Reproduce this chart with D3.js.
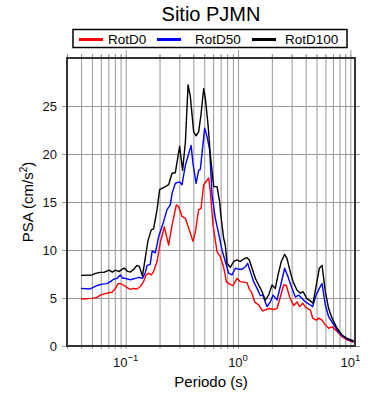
<!DOCTYPE html>
<html>
<head>
<meta charset="utf-8">
<script src="https://cdn.jsdelivr.net/npm/d3@7"></script>
<style>
  body { margin: 0; background: #fff; }
  svg { font-family: "Liberation Sans", Arial, Helvetica, sans-serif; }
</style>
</head>
<body>
<svg id="chart" width="390" height="400"></svg>
<script>
/* Data (period in s, PSA in cm/s2) */
const periods0 = [0.040, 0.050, 0.0555, 0.0594, 0.0636, 0.0705, 0.0755, 0.0808, 0.0854, 0.0895, 0.0958, 0.1027, 0.110, 0.1175, 0.126, 0.135, 0.144, 0.1517, 0.160, 0.169, 0.177, 0.190, 0.2033, 0.2206, 0.241, 0.2585, 0.2823, 0.296, 0.317, 0.3396, 0.3632, 0.397, 0.417, 0.446, 0.468, 0.494, 0.5475, 0.5666, 0.599, 0.650, 0.6956, 0.7446, 0.787, 0.842, 0.903, 0.980, 1.048, 1.122, 1.202, 1.26, 1.313, 1.406, 1.526, 1.656, 1.75, 1.873, 2.075, 2.224, 2.381, 2.547, 2.692, 2.88, 3.126, 3.352, 3.537, 3.76, 4.03, 4.404, 4.617, 4.95, 5.22, 5.597, 5.988, 6.41, 6.87, 7.61, 8.44, 9.35, 10.7];
const rotD0 = [4.9, 4.96, 5.07, 5.3, 5.4, 5.55, 5.6, 6.0, 6.5, 6.5, 6.35, 6.07, 5.9, 6.0, 5.94, 6.2, 6.7, 7.4, 7.57, 7.4, 7.75, 8.8, 10.8, 12.4, 10.5, 12.6, 14.7, 14.5, 13.5, 13.3, 12.3, 10.9, 11.9, 14.2, 14.3, 16.8, 17.5, 16.1, 12.6, 9.8, 9.3, 8.2, 6.7, 6.45, 6.3, 7.05, 6.7, 6.65, 6.6, 5.9, 5.66, 4.6, 4.27, 3.65, 3.75, 3.9, 3.8, 3.9, 5.1, 6.35, 6.3, 5.1, 4.2, 4.6, 4.1, 4.45, 4.0, 3.75, 2.9, 2.7, 2.9, 2.7, 2.2, 1.85, 2.0, 1.5, 0.97, 0.63, 0.38];

const periods50 = [0.040, 0.048, 0.0555, 0.0615, 0.068, 0.073, 0.078, 0.084, 0.0895, 0.094, 0.099, 0.110, 0.122, 0.132, 0.141, 0.149, 0.155, 0.165, 0.172, 0.1835, 0.1965, 0.2175, 0.233, 0.2495, 0.2585, 0.2765, 0.302, 0.317, 0.340, 0.382, 0.397, 0.423, 0.446, 0.4616, 0.5045, 0.530, 0.559, 0.587, 0.628, 0.672, 0.720, 0.770, 0.824, 0.884, 0.946, 1.012, 1.085, 1.161, 1.218, 1.287, 1.377, 1.476, 1.580, 1.656, 1.812, 1.939, 2.05, 2.224, 2.381, 2.60, 2.787, 2.982, 3.237, 3.465, 3.715, 3.975, 4.404, 4.617, 4.95, 5.297, 5.597, 5.988, 6.41, 6.87, 7.61, 8.44, 9.35, 10.7];
const rotD50 = [6.0, 5.94, 6.3, 6.45, 6.5, 6.7, 6.95, 7.05, 7.4, 7.05, 7.05, 6.9, 7.05, 7.15, 7.05, 7.6, 8.4, 8.5, 9.9, 9.7, 11.4, 12.95, 14.2, 14.7, 15.9, 16.95, 17.1, 16.8, 18.85, 20.9, 19.0, 16.95, 18.3, 18.4, 22.7, 21.8, 20.4, 15.7, 13.3, 11.7, 10.0, 8.8, 7.6, 7.4, 8.1, 8.0, 8.0, 8.25, 8.6, 7.75, 6.7, 6.0, 5.24, 5.3, 4.1, 4.6, 5.3, 4.8, 6.2, 8.1, 7.2, 6.2, 5.1, 5.3, 4.95, 4.6, 4.27, 4.1, 5.3, 6.0, 6.5, 4.27, 3.05, 2.5, 1.67, 1.07, 0.73, 0.45];

const periods100 = [0.040, 0.050, 0.054, 0.059, 0.064, 0.071, 0.076, 0.081, 0.087, 0.093, 0.098, 0.103, 0.110, 0.118, 0.126, 0.132, 0.141, 0.158, 0.169, 0.177, 0.190, 0.2005, 0.225, 0.241, 0.2585, 0.2765, 0.302, 0.321, 0.340, 0.359, 0.376, 0.4025, 0.423, 0.446, 0.468, 0.494, 0.512, 0.541, 0.567, 0.607, 0.650, 0.686, 0.700, 0.745, 0.770, 0.798, 0.854, 0.914, 0.980, 1.048, 1.122, 1.202, 1.26, 1.332, 1.426, 1.526, 1.636, 1.750, 1.873, 2.009, 2.148, 2.27, 2.43, 2.60, 2.73, 2.922, 3.089, 3.352, 3.589, 3.794, 4.115, 4.404, 4.65, 4.95, 5.297, 5.597, 5.988, 6.41, 6.87, 7.61, 8.44, 9.35, 10.7];
const rotD100 = [7.36, 7.4, 7.57, 7.67, 7.67, 7.9, 7.7, 7.9, 7.75, 8.0, 8.1, 7.8, 7.7, 8.0, 8.4, 8.3, 7.3, 11.0, 12.1, 12.2, 14.2, 16.3, 16.6, 16.8, 18.0, 18.05, 20.8, 18.3, 21.3, 27.2, 26.0, 22.3, 21.9, 22.3, 24.1, 26.8, 25.8, 23.0, 19.9, 16.6, 16.6, 15.0, 13.8, 11.2, 10.5, 8.6, 8.2, 8.8, 8.96, 8.8, 9.06, 9.2, 8.96, 8.1, 7.05, 6.35, 5.66, 4.8, 5.3, 6.35, 6.0, 7.4, 8.8, 9.55, 9.1, 7.7, 6.7, 5.8, 5.5, 5.66, 4.9, 4.7, 4.45, 6.2, 8.1, 8.4, 5.66, 3.9, 2.9, 1.85, 1.15, 0.8, 0.52];

const seriesNames = ["RotD0", "RotD50", "RotD100"];
const seriesColors = ["#ff0000", "#0000ff", "#000000"];
const yTicks = [0, 5, 10, 15, 20, 25];
const xLabelTicks = [0.1, 1, 10];
const xExponents = ["\u22121", "0", "1"];

const svg = d3.select("#chart");

/* plot box */
const plotLeft = 67, plotRight = 355, plotTop = 58, plotBottom = 346;

const x = d3.scaleLog().domain([0.03, 11]).range([plotLeft, plotRight]);
const y = d3.scaleLinear().domain([0, 30]).range([plotBottom, plotTop]);

const isMajor = d => Math.abs(Math.log10(d) - Math.round(Math.log10(d))) < 1e-6;

/* grid */
svg.append("g")
    .attr("transform", "translate(0," + plotBottom + ")")
    .call(d3.axisBottom(x).tickSize(-(plotBottom - plotTop) - 3).tickSizeOuter(0).tickFormat(""))
    .call(g => g.select(".domain").remove())
    .call(g => g.selectAll(".tick line").attr("y1", 3).attr("stroke", "#999"));

svg.append("g")
    .attr("transform", "translate(" + plotLeft + ",0)")
    .call(d3.axisLeft(y).tickValues(yTicks).tickSize(-(plotRight - plotLeft) - 5).tickSizeOuter(0).tickFormat(""))
    .call(g => g.select(".domain").remove())
    .call(g => g.selectAll(".tick line").attr("x1", -5).attr("stroke", "#999"));

/* top ticks, longer at the decades */
svg.append("g")
    .attr("transform", "translate(0," + plotTop + ")")
    .call(d3.axisTop(x).tickSize(4).tickSizeOuter(0).tickFormat(""))
    .call(g => g.select(".domain").remove())
    .call(g => g.selectAll(".tick line")
        .attr("y2", d => isMajor(d) ? -8 : -4)
        .attr("stroke", "#999"));

/* y labels */
svg.append("g")
    .selectAll("text")
    .data(yTicks)
    .join("text")
    .attr("x", plotLeft - 10)
    .attr("y", d => y(d) + 4.5)
    .attr("text-anchor", "end")
    .style("font-size", "13px")
    .attr("fill", "#111")
    .text(d => d);

/* x labels as 10^n */
const xl = svg.append("g")
    .selectAll("text")
    .data(xLabelTicks)
    .join("text")
    .attr("x", d => x(d))
    .attr("y", 367)
    .attr("text-anchor", "middle")
    .style("font-size", "13px")
    .attr("fill", "#111");
xl.append("tspan").text("10");
xl.append("tspan")
    .attr("dy", -6)
    .style("font-size", "9.5px")
    .text((d, i) => xExponents[i]);

/* curves */
const line = d3.line()
    .x(d => x(d[0]))
    .y(d => y(d[1]));

const curves = [
    d3.zip(periods0, rotD0),
    d3.zip(periods50, rotD50),
    d3.zip(periods100, rotD100)
];

svg.append("defs").append("clipPath").attr("id", "clip")
    .append("rect")
    .attr("x", plotLeft).attr("y", plotTop)
    .attr("width", plotRight - plotLeft).attr("height", plotBottom - plotTop);

svg.append("g")
    .attr("clip-path", "url(#clip)")
    .selectAll("path")
    .data(curves)
    .join("path")
    .attr("d", line)
    .attr("fill", "none")
    .attr("stroke", (d, i) => seriesColors[i])
    .attr("stroke-width", 1.4)
    .attr("stroke-linejoin", "round");

/* frame */
svg.append("rect")
    .attr("x", plotLeft)
    .attr("y", plotTop)
    .attr("width", plotRight - plotLeft)
    .attr("height", plotBottom - plotTop)
    .attr("fill", "none")
    .attr("stroke", "#333")
    .attr("stroke-width", 2);

/* axis titles */
svg.append("text")
    .attr("x", (plotLeft + plotRight) / 2)
    .attr("y", 20.5)
    .attr("text-anchor", "middle")
    .style("font-size", "20px")
    .text("Sitio PJMN");

svg.append("text")
    .attr("x", (plotLeft + plotRight) / 2)
    .attr("y", 387)
    .attr("text-anchor", "middle")
    .style("font-size", "15px")
    .text("Periodo (s)");

const yTitle = svg.append("text")
    .attr("transform", "translate(33," + ((plotTop + plotBottom) / 2) + ") rotate(-90)")
    .attr("text-anchor", "middle")
    .style("font-size", "15px");
yTitle.append("tspan").text("PSA (cm/s");
yTitle.append("tspan").attr("dy", -6).style("font-size", "10px").text("2");
yTitle.append("tspan").attr("dy", 6).text(")");

/* legend */
const legendLeft = [79, 157, 252];
const legendTextX = [108, 195, 285];

svg.append("rect")
    .attr("x", 73)
    .attr("y", 29.5)
    .attr("width", 274)
    .attr("height", 18)
    .attr("fill", "#fff")
    .attr("stroke", "#000")
    .attr("stroke-width", 1.5);

const leg = svg.append("g")
    .selectAll("g")
    .data(seriesNames)
    .join("g");

leg.append("line")
    .attr("x1", (d, i) => legendLeft[i])
    .attr("x2", (d, i) => legendLeft[i] + 24)
    .attr("y1", 39.5)
    .attr("y2", 39.5)
    .attr("stroke", (d, i) => seriesColors[i])
    .attr("stroke-width", 3);

leg.append("text")
    .attr("x", (d, i) => legendTextX[i])
    .attr("y", 44)
    .style("font-size", "13.5px")
    .text(d => d);
</script>
</body>
</html>
